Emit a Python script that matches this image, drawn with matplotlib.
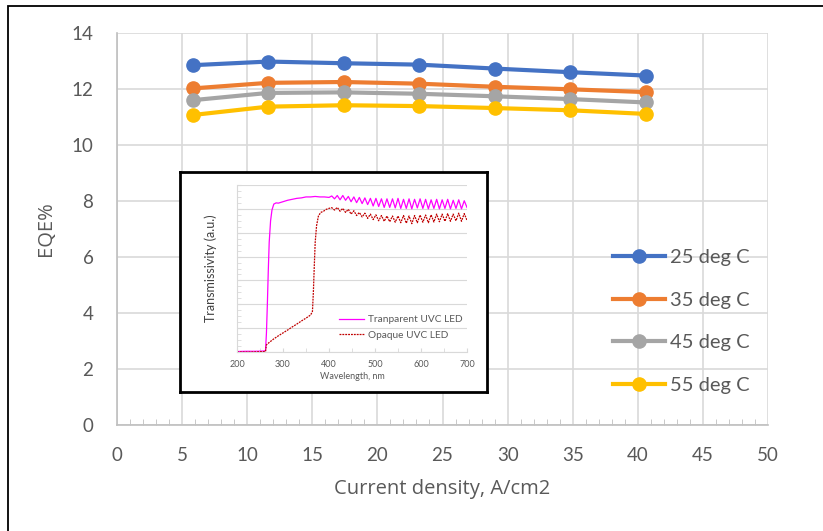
import matplotlib.pyplot as plt
from matplotlib.ticker import MultipleLocator

plt.rcParams['font.family'] = ['Lato', 'DejaVu Sans']

# main chart data
current = [5.8, 11.6, 17.4, 23.2, 29.0, 34.8, 40.6]
eqe_25 = [12.85, 12.98, 12.92, 12.87, 12.73, 12.60, 12.48]
eqe_35 = [12.02, 12.22, 12.25, 12.19, 12.08, 11.99, 11.89]
eqe_45 = [11.60, 11.86, 11.88, 11.83, 11.74, 11.64, 11.52]
eqe_55 = [11.07, 11.37, 11.42, 11.39, 11.32, 11.24, 11.11]
labels = ['25 deg C', '35 deg C', '45 deg C', '55 deg C']
colors = ['#4472C4', '#ED7D31', '#A5A5A5', '#FFC000']

# inset spectra
wl_t = [200, 220, 240, 258, 262, 264, 266, 268, 270, 273, 276, 280, 285, 290, 300,
        310, 320, 330, 340, 350, 360, 370, 380, 390, 400,
        406, 412, 418, 424, 430, 436, 442, 448, 454, 460, 466, 472, 478, 484, 490, 496,
        502, 508, 514, 520, 526, 532, 538, 544, 550, 556, 562, 568, 574, 580, 586, 592,
        598, 604, 610, 616, 622, 628, 634, 640, 646, 652, 658, 664, 670, 676, 682, 688,
        694, 700]
tr_t = [0.02, 0.03, 0.03, 0.04, 0.06, 0.8, 2.0, 3.4, 4.6, 5.5, 5.95, 6.2, 6.25, 6.24, 6.3,
        6.36, 6.4, 6.44, 6.46, 6.5, 6.5, 6.52, 6.5, 6.5, 6.48,
        6.54, 6.42, 6.56, 6.38, 6.56, 6.36, 6.52, 6.30, 6.50, 6.26, 6.48, 6.22, 6.46, 6.18,
        6.44, 6.12, 6.44, 6.10, 6.42, 6.06, 6.42, 6.06, 6.42, 6.04, 6.44, 6.02, 6.40, 6.02,
        6.42, 6.00, 6.40, 6.04, 6.42, 6.02, 6.40, 6.00, 6.38, 6.02, 6.40, 6.00, 6.38, 6.02,
        6.40, 6.00, 6.36, 6.02, 6.38, 6.00, 6.34, 6.06]
wl_o = [200, 230, 262, 264, 270, 280, 290, 300, 310, 320, 330, 340, 350, 360, 364, 366,
        368, 370, 373, 377, 382, 388, 394, 400,
        406, 412, 418, 424, 430, 436, 442, 448, 454, 460, 466, 472, 478, 484, 490, 496,
        502, 508, 514, 520, 526, 532, 538, 544, 550, 556, 562, 568, 574, 580, 586, 592,
        598, 604, 610, 616, 622, 628, 634, 640, 646, 652, 658, 664, 670, 676, 682, 688,
        694, 700]
tr_o = [0.0, 0.0, 0.02, 0.3, 0.4, 0.55, 0.68, 0.8, 0.92, 1.05, 1.17, 1.3, 1.42, 1.55, 1.7,
        2.5, 3.6, 4.6, 5.3, 5.7, 5.85, 5.9, 5.98, 6.02,
        6.05, 5.95, 6.06, 5.90, 6.02, 5.85, 5.98, 5.78, 5.92, 5.72, 5.85, 5.66, 5.82, 5.60,
        5.78, 5.55, 5.75, 5.50, 5.72, 5.48, 5.70, 5.46, 5.70, 5.44, 5.70, 5.42, 5.72, 5.40,
        5.70, 5.38, 5.72, 5.42, 5.74, 5.44, 5.74, 5.42, 5.75, 5.45, 5.78, 5.46, 5.78, 5.48,
        5.80, 5.48, 5.78, 5.50, 5.82, 5.48, 5.80, 5.52]

W, H = 823, 531
fig = plt.figure(figsize=(W / 100, H / 100), dpi=100)


def box(l, t, r, b):
    # pixel box -> figure fraction
    return [l / W, 1 - b / H, (r - l) / W, (b - t) / H]


# outer chart border
fig.patches.append(plt.Rectangle((8 / W, -0.1), 1.2, 1 - 6 / H + 0.1, transform=fig.transFigure,
                                 fill=False, edgecolor='black', linewidth=1.3))

ax = fig.add_axes(box(117, 33, 768, 425))
for ys, lab, c in zip([eqe_25, eqe_35, eqe_45, eqe_55], labels, colors):
    ax.plot(current, ys, color=c, lw=3.0, marker='o', ms=9.5, label=lab)
ax.set_xlim(0, 50)
ax.set_ylim(0, 14)
ax.xaxis.set_major_locator(MultipleLocator(5))
ax.yaxis.set_major_locator(MultipleLocator(2))
ax.xaxis.set_minor_locator(MultipleLocator(1))
ax.grid(True, color='#D9D9D9', lw=1.2)
ax.set_axisbelow(True)
for s in ['top', 'right']:
    ax.spines[s].set_visible(False)
for s in ['bottom', 'left']:
    ax.spines[s].set_color('#BFBFBF')
    ax.spines[s].set_linewidth(1.2)
ax.tick_params(axis='x', which='major', length=0, pad=16, labelsize=13.5, labelcolor='#595959')
ax.tick_params(axis='x', which='minor', length=4, direction='in', color='#BFBFBF')
ax.tick_params(axis='y', length=0, pad=17, labelsize=13.5, labelcolor='#595959')
ax.set_xlabel('Current density, A/cm2', fontsize=14.5, color='#595959', family='Open Sans')
ax.xaxis.set_label_coords(0.5, -0.138)
ax.set_ylabel('EQE%', fontsize=14.5, color='#595959', family='Open Sans')
ax.yaxis.set_label_coords(-0.094, 0.5)
ax.legend(loc='upper left', bbox_to_anchor=(613 / W, 1 - 249 / H), bbox_transform=fig.transFigure,
          frameon=False, fontsize=14.5, labelcolor='#595959', handlelength=2.6,
          handletextpad=0.25, labelspacing=1.27, borderaxespad=0, borderpad=0)

# inset frame
fr = fig.add_axes(box(180, 172, 487, 392))
fr.set_xticks([])
fr.set_yticks([])
for s in fr.spines.values():
    s.set_linewidth(2)
    s.set_color('black')

ins = fig.add_axes(box(237, 185, 467, 352))
ins.plot(wl_t, tr_t, color='#FF00FF', lw=0.9, label='Tranparent UVC LED')
ins.plot(wl_o, tr_o, color='#C00000', lw=0.9, ls=(0, (1.5, 0.8)), label='Opaque UVC LED')
ins.set_xlim(200, 700)
ins.set_ylim(0, 7)
ins.xaxis.set_major_locator(MultipleLocator(100))
ins.xaxis.set_minor_locator(MultipleLocator(50))
ins.yaxis.set_major_locator(MultipleLocator(1))
ins.yaxis.set_minor_locator(MultipleLocator(0.25))
ins.grid(True, axis='y', color='#D9D9D9', lw=0.8)
ins.set_axisbelow(True)
for s in ['top', 'right']:
    ins.spines[s].set_visible(False)
for s in ['left', 'bottom']:
    ins.spines[s].set_color('#D9D9D9')
ins.set_yticklabels([])
ins.tick_params(axis='y', which='both', length=3, direction='in', color='#D9D9D9')
ins.tick_params(axis='x', which='both', length=3, direction='in', color='#D9D9D9',
                labelsize=6.5, labelcolor='#595959', pad=6)
ins.set_xlabel('Wavelength, nm', fontsize=6.5, color='#595959', labelpad=2)
ins.set_ylabel('Transmissivity (a.u.)', fontsize=9, color='#404040')
ins.yaxis.set_label_coords(-0.085, 0.5)
ins.legend(loc='lower right', bbox_to_anchor=(1.02, 0.02), frameon=False, fontsize=7.3,
           labelcolor='#595959', handlelength=2.4, handletextpad=0.4, labelspacing=0.6)

fig.savefig('out.png', dpi=100)
